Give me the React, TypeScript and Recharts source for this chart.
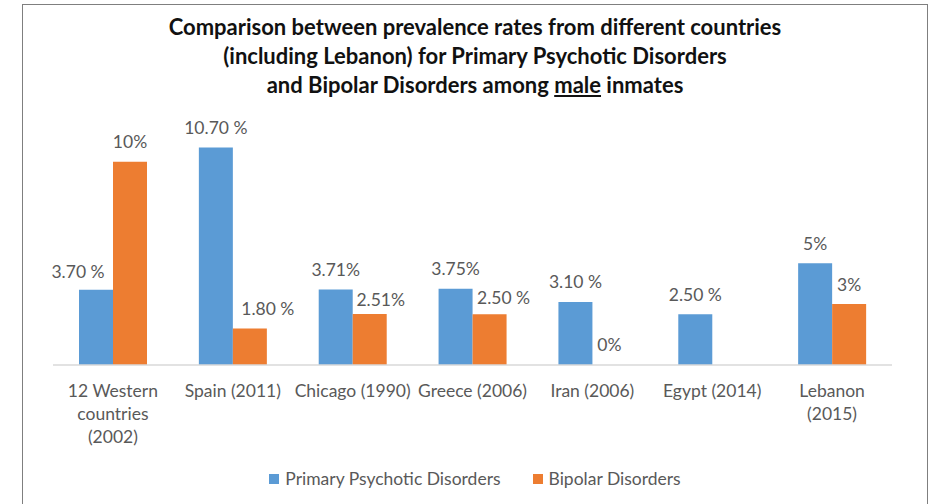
import React from 'react';
import { BarChart, Bar, XAxis, YAxis, LabelList } from 'recharts';

// Male inmates: prevalence (%) of psychotic vs bipolar disorders, per study.
const categories = [
  '12 Western\ncountries\n(2002)',
  'Spain (2011)',
  'Chicago (1990)',
  'Greece (2006)',
  'Iran (2006)',
  'Egypt (2014)',
  'Lebanon\n(2015)',
];
const psychotic = [3.7, 10.7, 3.71, 3.75, 3.1, 2.5, 5];
const bipolar: (number | null)[] = [10, 1.8, 2.51, 2.5, 0, null, 3];
const psychoticLabels = ['3.70 %', '10.70 %', '3.71%', '3.75%', '3.10 %', '2.50 %', '5%'];
const bipolarLabels = ['10%', '1.80 %', '2.51%', '2.50 %', '0%', '', '3%'];

// Excel had a few labels dragged so they don't sit on the neighbour bar.
const psychoticNudge = [[-18, 2], [0, 0], [0, 0], [0, 0], [0, 0], [0, 0], [0, 0]];
const bipolarNudge = [[0, 0], [18, 0], [11, 6], [14, 3], [0, 0], [0, 0], [0, 0]];

const BLUE = '#5B9BD5';
const ORANGE = '#ED7D31';
const TEXT = '#595959';
const FONT = 'Lato, "Open Sans", sans-serif';

const data = categories.map((name, i) => ({
  name,
  psychotic: psychotic[i],
  bipolar: bipolar[i],
}));

// LabelList drops empty entries, so find the row by value (values are unique per series).
function makeLabel(values: (number | null)[], texts: string[], nudge: number[][]) {
  return (props: any) => {
    const { x, y, width, value } = props;
    const i = values.indexOf(value);
    if (i < 0 || !texts[i]) return null;
    return (
      <text
        x={x + width / 2 + nudge[i][0]}
        y={y - 20 + nudge[i][1]}
        textAnchor="middle"
        dominantBaseline="central"
        fill={TEXT}
        fontSize={17.5}
        fontFamily={FONT}
      >
        {texts[i]}
      </text>
    );
  };
}

function CategoryTick(props: any) {
  const { x, y, payload } = props;
  const lines = String(payload.value).split('\n');
  return (
    <text x={x} y={y} textAnchor="middle" fill={TEXT} fontSize={17.5} fontFamily={FONT}>
      {lines.map((l, i) => (
        <tspan key={i} x={x} dy={i === 0 ? 24 : 23}>
          {l}
        </tspan>
      ))}
    </text>
  );
}

function LegendBox() {
  const item = (color: string, label: string) => (
    <div style={{ display: 'flex', alignItems: 'center' }}>
      <span style={{ width: 10, height: 10, background: color, marginRight: 6 }} />
      <span>{label}</span>
    </div>
  );
  return (
    <div
      style={{
        position: 'absolute',
        top: 467,
        left: 0,
        width: 950,
        display: 'flex',
        justifyContent: 'center',
        gap: 32,
        color: TEXT,
        fontSize: 17.5,
        lineHeight: '24px',
        fontFamily: FONT,
      }}
    >
      {item(BLUE, 'Primary Psychotic Disorders')}
      {item(ORANGE, 'Bipolar Disorders')}
    </div>
  );
}

export default function App() {
  return (
    <div style={{ position: 'fixed', left: 0, top: 0, width: 932, height: 504, overflow: 'hidden', background: '#fff' }}>
      <div style={{ position: 'absolute', left: 0, top: 0 }}>
        <BarChart
          width={932}
          height={504}
          data={data}
          margin={{ top: 121, right: 40, bottom: 109, left: 53 }}
          barSize={34}
          barGap={0}
        >
          <XAxis
            dataKey="name"
            axisLine={{ stroke: '#D9D9D9', strokeWidth: 1.5 }}
            tickLine={false}
            tick={<CategoryTick />}
            interval={0}
          />
          <YAxis hide domain={[0, 12]} />
          <Bar dataKey="psychotic" fill={BLUE} isAnimationActive={false}>
            <LabelList dataKey="psychotic" content={makeLabel(psychotic, psychoticLabels, psychoticNudge)} />
          </Bar>
          <Bar
            dataKey="bipolar"
            fill={ORANGE}
            isAnimationActive={false}
            minPointSize={(v: any) => (v === 0 ? 0.01 : 0)}
          >
            <LabelList dataKey="bipolar" content={makeLabel(bipolar, bipolarLabels, bipolarNudge)} />
          </Bar>
        </BarChart>
      </div>
      <div
        style={{
          position: 'absolute',
          left: 22,
          top: 4,
          width: 904,
          height: 540,
          border: '1px solid #7f7f7f',
          pointerEvents: 'none',
        }}
      />
      <div
        style={{
          position: 'absolute',
          left: 22,
          top: 12,
          width: 906,
          textAlign: 'center',
          fontFamily: FONT,
          fontWeight: 700,
          fontSize: 22,
          lineHeight: '29px',
          color: '#111',
        }}
      >
        Comparison between prevalence rates from different countries
        <br />
        (including Lebanon) for Primary Psychotic Disorders
        <br />
        and Bipolar Disorders among <u>male</u> inmates
      </div>
      <LegendBox />
    </div>
  );
}
